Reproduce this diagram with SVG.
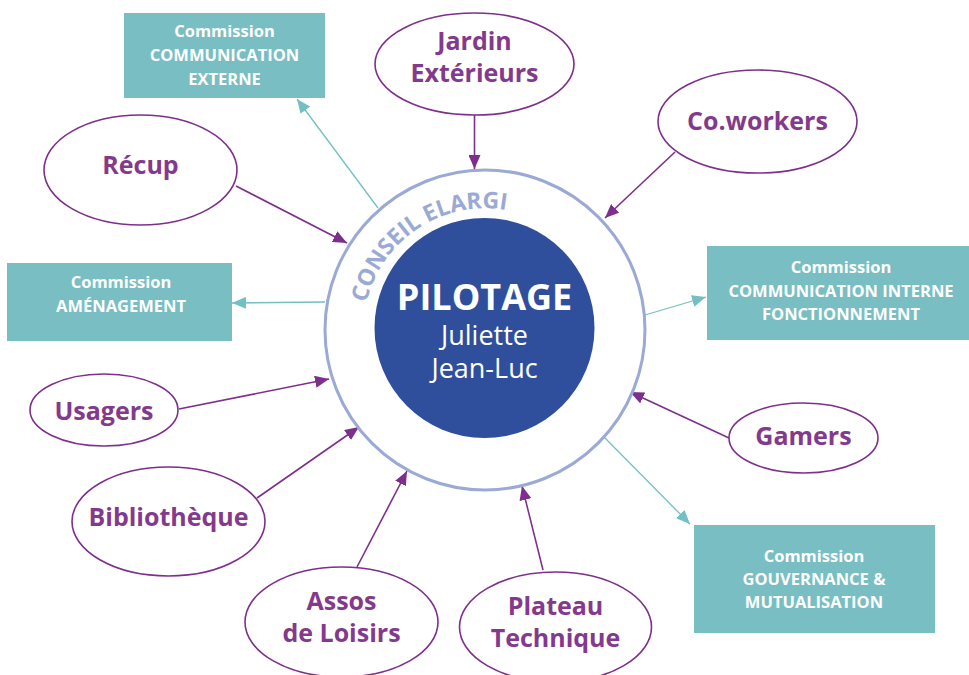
<svg xmlns="http://www.w3.org/2000/svg" width="969" height="675" viewBox="0 0 969 675">
<style>
.ell{fill:#fff;stroke:#7e2f8c;stroke-width:1.6}
.lab{font-family:"Open Sans","Liberation Sans",sans-serif;font-weight:700;font-size:25px;fill:#843a8c;text-anchor:middle}
.box{fill:#79bec2}
.btx{font-family:"Open Sans","Liberation Sans",sans-serif;font-weight:700;font-size:16.5px;fill:#fff;text-anchor:middle}
.pl{stroke:#7e2f8c;stroke-width:1.6;fill:none;marker-end:url(#ap)}
.tl{stroke:#72c0c3;stroke-width:1.3;fill:none;marker-end:url(#at)}
</style>
<defs>
<marker id="ap" markerUnits="userSpaceOnUse" markerWidth="14" markerHeight="12" refX="14" refY="6" orient="auto"><path d="M0,0 L14,6 L0,12 z" fill="#7e2f8c"/></marker>
<marker id="at" markerUnits="userSpaceOnUse" markerWidth="14" markerHeight="12" refX="14" refY="6" orient="auto"><path d="M0,0 L14,6 L0,12 z" fill="#72c0c3"/></marker>
<path id="arc" d="M388.8,405.1 A122,122 0 1 1 591.7,270.8"/>
</defs>
<rect width="969" height="675" fill="#fff"/>

<g id="connectors">
<line class="pl" x1="474.5" y1="115" x2="474.5" y2="169"/>
<line class="pl" x1="675" y1="152" x2="605" y2="218"/>
<line class="pl" x1="236" y1="186" x2="347" y2="243"/>
<line class="pl" x1="179" y1="409" x2="329" y2="379"/>
<line class="pl" x1="257" y1="498" x2="359" y2="427"/>
<line class="pl" x1="357" y1="567" x2="407" y2="471"/>
<line class="pl" x1="543" y1="570" x2="522" y2="486"/>
<line class="pl" x1="729" y1="438" x2="630" y2="392"/>
<line class="tl" x1="378" y1="208" x2="297" y2="99"/>
<line class="tl" x1="325" y1="302" x2="232" y2="303"/>
<line class="tl" x1="645" y1="315" x2="706" y2="297"/>
<line class="tl" x1="603" y1="436" x2="690" y2="524"/>
</g>

<g id="conseil">
<circle cx="485" cy="330" r="160" fill="#fff" stroke="#9aaad5" stroke-width="3"/>
<text font-family="'Open Sans','Liberation Sans',sans-serif" font-weight="700" font-size="23" fill="#9aaad5" text-anchor="middle"><textPath href="#arc" startOffset="50%">CONSEIL ELARGI</textPath></text>
</g>

<g id="pilotage">
<circle cx="484.5" cy="328" r="110" fill="#2f4f9d"/>
<text x="484.5" y="310" font-family="'Open Sans','Liberation Sans',sans-serif" font-weight="700" font-size="36" fill="#fff" text-anchor="middle">PILOTAGE</text>
<text x="484.5" y="345" font-family="'Open Sans','Liberation Sans',sans-serif" font-size="27" fill="#fff" text-anchor="middle">Juliette</text>
<text x="484.5" y="378" font-family="'Open Sans','Liberation Sans',sans-serif" font-size="27" fill="#fff" text-anchor="middle">Jean-Luc</text>
</g>

<g id="jardin"><ellipse class="ell" cx="474.5" cy="64" rx="99.5" ry="51"/><text class="lab" x="474.5" y="50">Jardin</text><text class="lab" x="474.5" y="82">Extérieurs</text></g>
<g id="coworkers"><ellipse class="ell" cx="757.5" cy="121.5" rx="99.5" ry="51.5"/><text class="lab" x="757.5" y="130">Co.workers</text></g>
<g id="recup"><ellipse class="ell" cx="140.5" cy="170" rx="96.5" ry="55"/><text class="lab" x="140.5" y="174">Récup</text></g>
<g id="usagers"><ellipse class="ell" cx="104" cy="410" rx="74" ry="36"/><text class="lab" x="104" y="420">Usagers</text></g>
<g id="gamers"><ellipse class="ell" cx="803.5" cy="438" rx="74.5" ry="35"/><text class="lab" x="803.5" y="445">Gamers</text></g>
<g id="bibliotheque"><ellipse class="ell" cx="168.5" cy="521.5" rx="96.5" ry="54.5"/><text class="lab" x="168.5" y="526">Bibliothèque</text></g>
<g id="assos"><ellipse class="ell" cx="341.5" cy="622" rx="96.5" ry="55"/><text class="lab" x="341.5" y="610">Assos</text><text class="lab" x="341.5" y="642">de Loisirs</text></g>
<g id="plateau"><ellipse class="ell" cx="555.5" cy="627" rx="96" ry="55"/><text class="lab" x="555.5" y="615">Plateau</text><text class="lab" x="555.5" y="647">Technique</text></g>

<g id="com-externe"><rect class="box" x="124" y="13" width="201" height="85"/><text class="btx" x="224.5" y="37">Commission</text><text class="btx" x="224.5" y="61">COMMUNICATION</text><text class="btx" x="224.5" y="85">EXTERNE</text></g>
<g id="com-amenagement"><rect class="box" x="7" y="263" width="225" height="78"/><text class="btx" x="121" y="288">Commission</text><text class="btx" x="121" y="312">AMÉNAGEMENT</text></g>
<g id="com-interne"><rect class="box" x="707" y="246" width="262" height="94"/><text class="btx" x="841" y="273">Commission</text><text class="btx" x="841" y="297">COMMUNICATION INTERNE</text><text class="btx" x="841" y="320">FONCTIONNEMENT</text></g>
<g id="com-gouvernance"><rect class="box" x="694" y="525" width="241" height="108"/><text class="btx" x="814" y="562">Commission</text><text class="btx" x="814" y="585">GOUVERNANCE &amp;</text><text class="btx" x="814" y="608">MUTUALISATION</text></g>
</svg>
